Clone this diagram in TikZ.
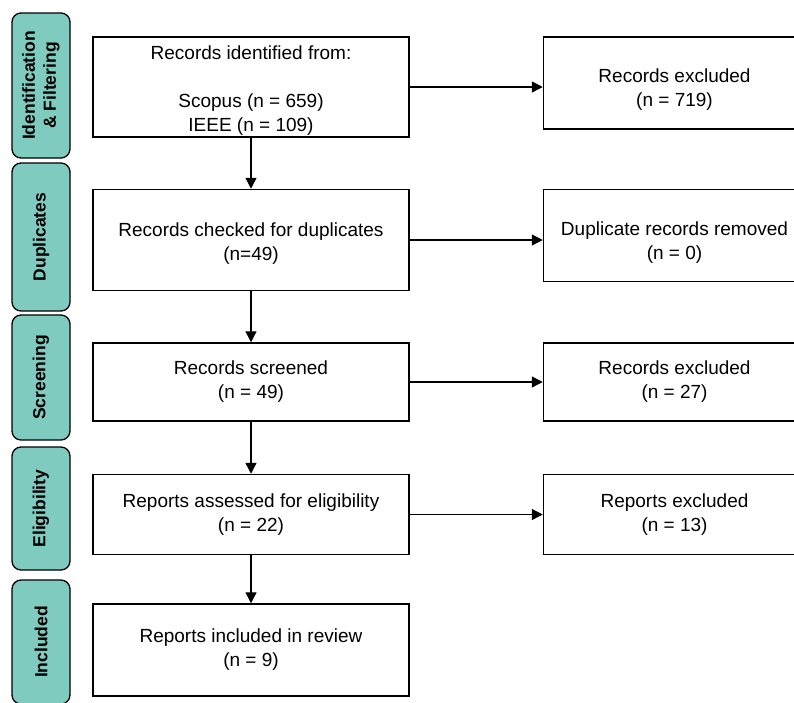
\documentclass[tikz,border=0pt]{standalone}
\usepackage{fontspec}
\setmainfont{Liberation Sans}
\usetikzlibrary{arrows.meta,positioning,calc}
\definecolor{stageteal}{HTML}{80CBC0}

\begin{document}
\begin{tikzpicture}[x=1pt,y=-1pt,node distance=51pt,
    box/.style={draw,line width=1.5pt,fill=white,align=center,minimum width=316pt,inner sep=0pt,font=\fontsize{19}{24}\selectfont},
    sidebox/.style={box,minimum width=262pt},
    stage/.style={draw,line width=1.3pt,rounded corners=9pt,fill=stageteal,rotate=90,align=center,minimum height=58pt,inner sep=0pt,font=\fontsize{17.5}{21}\selectfont\bfseries},
    flow/.style={-{Triangle[length=11pt,width=11pt]},line width=1.3pt}]
    \clip (0,0) rectangle (794,702);
    % stage bars on the left
    \node[stage,minimum width=145pt] (s-ident) at (41,85.5) {Identification\\\& Filtering};
    \node[stage,minimum width=148pt] (s-dupl) at (41,237) {Duplicates};
    \node[stage,minimum width=125pt] (s-screen) at (41,377.5) {Screening};
    \node[stage,minimum width=123pt] (s-elig) at (41,508.5) {Eligibility};
    \node[stage,minimum width=124pt] (s-incl) at (41,642) {Included};
    % main flow
    \node[box,minimum height=100pt] (ident) at (251,87) {\rule{0pt}{20pt}Records identified from:\\[24pt]Scopus (n = 659)\\IEEE (n = 109)};
    \node[box,minimum height=101pt,below=of ident] (dupl) {\rule{0pt}{20pt}Records checked for duplicates\\(n=49)};
    \node[box,minimum height=78pt,below=of dupl] (screen) {Records screened\\(n = 49)};
    \node[box,minimum height=80pt,below=52pt of screen] (elig) {Reports assessed for eligibility\\(n = 22)};
    \node[box,minimum height=92pt,below=48pt of elig] (incl) {Reports included in review\\(n = 9)};
    % exclusions on the right (text sits on the arrow line)
    \node[sidebox,minimum height=92pt,right=133pt of ident.north east,anchor=north west] (excl1) {\rule{0pt}{27pt}Records excluded\\(n = 719)};
    \node[sidebox,minimum height=92pt,right=133pt of dupl.north east,anchor=north west] (removed) {\rule{0pt}{27pt}Duplicate records removed\\(n = 0)};
    \node[sidebox,minimum height=78pt,right=133pt of screen.north east,anchor=north west] (excl2) {Records excluded\\(n = 27)};
    \node[sidebox,minimum height=80pt,right=133pt of elig.north east,anchor=north west] (excl3) {Reports excluded\\(n = 13)};
    \draw[flow] (ident) -- (dupl);
    \draw[flow] (dupl) -- (screen);
    \draw[flow] (screen) -- (elig);
    \draw[flow] (elig) -- (incl);
    \draw[flow] (ident.east) -- (ident.east -| excl1.west);
    \draw[flow] (dupl.east) -- (dupl.east -| removed.west);
    \draw[flow] (screen.east) -- (screen.east -| excl2.west);
    \draw[flow] (elig.east) -- (elig.east -| excl3.west);
\end{tikzpicture}
\end{document}
